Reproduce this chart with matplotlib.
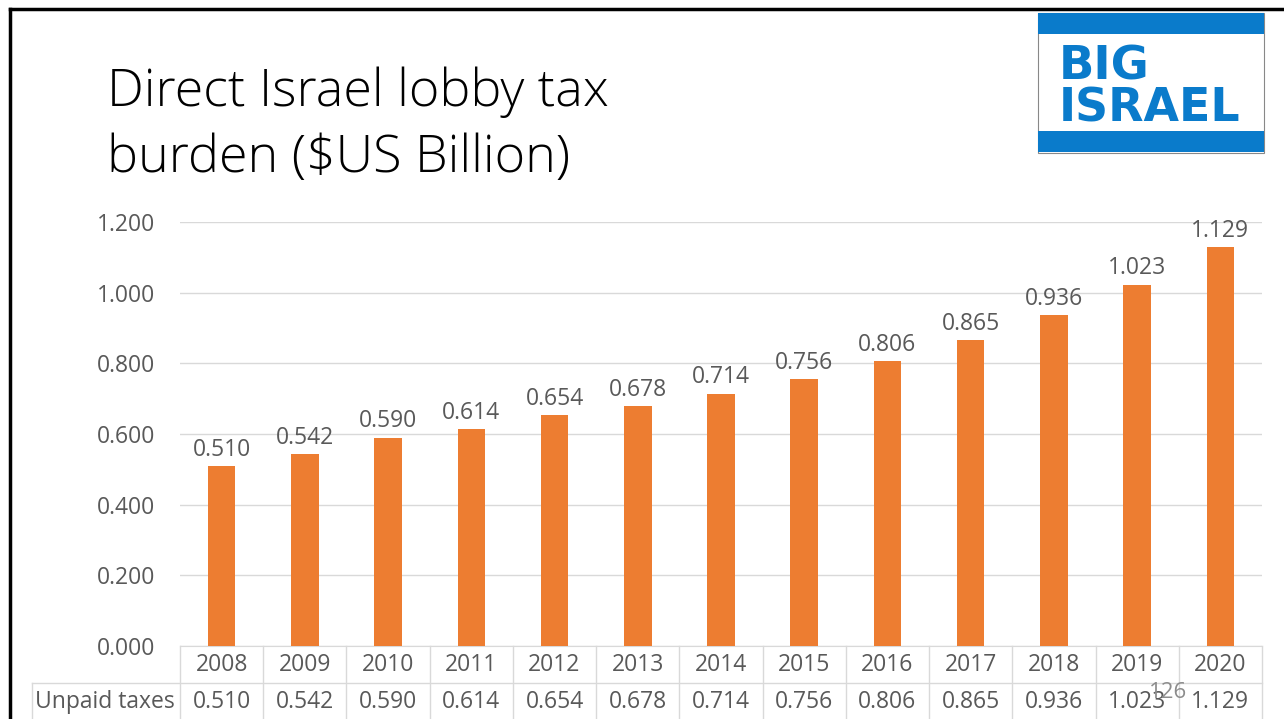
import numpy as np
import matplotlib.pyplot as plt
from matplotlib.patches import Rectangle
from matplotlib.lines import Line2D

years = ['2008', '2009', '2010', '2011', '2012', '2013', '2014',
         '2015', '2016', '2017', '2018', '2019', '2020']
unpaid = [0.510, 0.542, 0.590, 0.614, 0.654, 0.678, 0.714,
          0.756, 0.806, 0.865, 0.936, 1.023, 1.129]
series_name = 'Unpaid taxes'
yticks = [0.0, 0.2, 0.4, 0.6, 0.8, 1.0, 1.2]

W, H = 1284, 719
orange = '#ED7D31'
txt = '#595959'
grid = '#D9D9D9'
blue = '#0A7BCB'

plt.rcParams['font.family'] = ['Open Sans', 'DejaVu Sans']

fig = plt.figure(figsize=(W / 100, H / 100), dpi=100)
fig.patch.set_facecolor('white')

def fx(px):
    return px / W

def fy(py):
    return 1 - py / H

# slide border
fig.add_artist(Line2D([fx(10), fx(1284)], [fy(9), fy(9)], color='black', lw=2.5))
fig.add_artist(Line2D([fx(10), fx(10)], [fy(9), fy(719)], color='black', lw=2.5))

# title
fig.text(fx(107), fy(106), 'Direct Israel lobby tax', fontsize=37.5, color='black',
         fontweight='light', va='baseline', ha='left')
fig.text(fx(107), fy(172), 'burden ($US Billion)', fontsize=37.5, color='black',
         fontweight='light', va='baseline', ha='left')

# logo
fig.add_artist(Rectangle((fx(1038), fy(153)), fx(226), 140 / H, facecolor='white',
                         edgecolor='#888888', lw=0.8))
fig.add_artist(Rectangle((fx(1038), fy(34)), fx(226), 21 / H, facecolor=blue, lw=0))
fig.add_artist(Rectangle((fx(1038), fy(152)), fx(226), 21 / H, facecolor=blue, lw=0))
fig.text(fx(1059), fy(80), 'BIG', fontsize=33.5, fontweight='bold', color=blue,
         family=['DejaVu Sans'], va='baseline', ha='left')
fig.text(fx(1059), fy(122), 'ISRAEL', fontsize=33, fontweight='bold', color=blue,
         family=['DejaVu Sans'], va='baseline', ha='left')

# chart
left, right, top, bottom = 180, 1262, 222, 646
ax = fig.add_axes([fx(left), fy(bottom), fx(right - left), (bottom - top) / H])
x = np.arange(len(years))
ax.bar(x, unpaid, width=0.33, color=orange, zorder=3)
for xi, v in zip(x, unpaid):
    ax.text(xi, v + 0.012, f'{v:.3f}', ha='center', va='bottom', fontsize=16.5, color=txt)
ax.set_xlim(-0.5, len(years) - 0.5)
ax.set_ylim(0, 1.2)
ax.set_yticks(yticks)
ax.set_yticklabels([f'{t:.3f}' for t in yticks], fontsize=16.5, color=txt)
ax.tick_params(axis='y', length=0, pad=18)
ax.set_xticks([])
ax.yaxis.grid(True, color=grid, lw=1, zorder=0)
for s in ['top', 'right', 'left']:
    ax.spines[s].set_visible(False)
ax.spines['bottom'].set_color(grid)
ax.set_facecolor('white')

# data table under the axis
row1, row2, row3 = 646, 683, 720
cell = (right - left) / len(years)
fig.add_artist(Line2D([fx(32), fx(right)], [fy(row2), fy(row2)], color=grid, lw=1))
fig.add_artist(Line2D([fx(32), fx(32)], [fy(row2), fy(row3)], color=grid, lw=1))
for i in range(len(years) + 1):
    xp = left + i * cell
    fig.add_artist(Line2D([fx(xp), fx(xp)], [fy(row1), fy(row3)], color=grid, lw=1))
for i, (yr, v) in enumerate(zip(years, unpaid)):
    xc = left + (i + 0.5) * cell
    fig.text(fx(xc), fy(665), yr, ha='center', va='center', fontsize=16.5, color=txt)
    fig.text(fx(xc), fy(702), f'{v:.3f}', ha='center', va='center',
             fontsize=16.5, color=txt)
fig.text(fx(105), fy(702), series_name, ha='center', va='center',
         fontsize=16.5, color=txt)

# slide number
fig.text(fx(1168), fy(693), '126', ha='center', va='center', fontsize=16, color='#8C8C8C')

fig.savefig('out.png', dpi=100)
